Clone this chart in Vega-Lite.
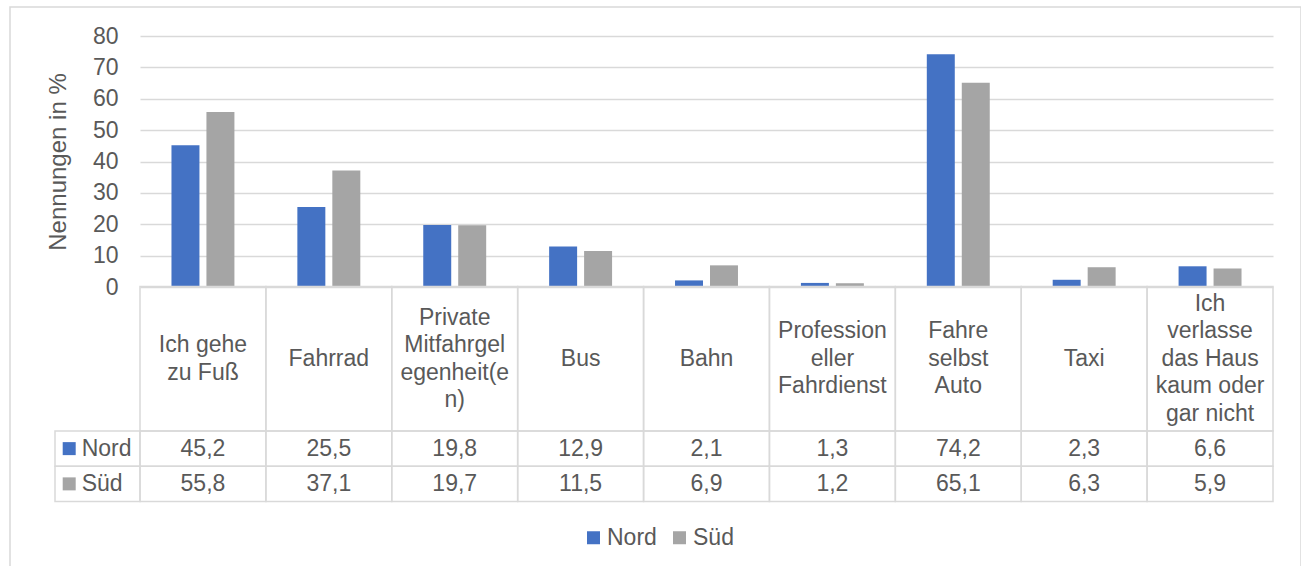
{
  "$schema": "https://vega.github.io/schema/vega-lite/v6.json",
  "width": 1291,
  "height": 570,
  "autosize": {"type": "none"},
  "padding": {"left": 10, "top": 7, "right": 0, "bottom": 0},
  "datasets": {
    "werte": [
      {"verkehrsmittel": "Ich gehe zu Fuß", "reihe": "Nord", "wert": 45.2},
      {"verkehrsmittel": "Ich gehe zu Fuß", "reihe": "Süd", "wert": 55.8},
      {"verkehrsmittel": "Fahrrad", "reihe": "Nord", "wert": 25.5},
      {"verkehrsmittel": "Fahrrad", "reihe": "Süd", "wert": 37.1},
      {"verkehrsmittel": "Private Mitfahrgelegenheit(en)", "reihe": "Nord", "wert": 19.8},
      {"verkehrsmittel": "Private Mitfahrgelegenheit(en)", "reihe": "Süd", "wert": 19.7},
      {"verkehrsmittel": "Bus", "reihe": "Nord", "wert": 12.9},
      {"verkehrsmittel": "Bus", "reihe": "Süd", "wert": 11.5},
      {"verkehrsmittel": "Bahn", "reihe": "Nord", "wert": 2.1},
      {"verkehrsmittel": "Bahn", "reihe": "Süd", "wert": 6.9},
      {"verkehrsmittel": "Professioneller Fahrdienst", "reihe": "Nord", "wert": 1.3},
      {"verkehrsmittel": "Professioneller Fahrdienst", "reihe": "Süd", "wert": 1.2},
      {"verkehrsmittel": "Fahre selbst Auto", "reihe": "Nord", "wert": 74.2},
      {"verkehrsmittel": "Fahre selbst Auto", "reihe": "Süd", "wert": 65.1},
      {"verkehrsmittel": "Taxi", "reihe": "Nord", "wert": 2.3},
      {"verkehrsmittel": "Taxi", "reihe": "Süd", "wert": 6.3},
      {"verkehrsmittel": "Ich verlasse das Haus kaum oder gar nicht", "reihe": "Nord", "wert": 6.6},
      {"verkehrsmittel": "Ich verlasse das Haus kaum oder gar nicht", "reihe": "Süd", "wert": 5.9}
    ],
    "kategorien": [
      {"verkehrsmittel": "Ich gehe zu Fuß", "beschriftung": "Ich gehe\nzu Fuß"},
      {"verkehrsmittel": "Fahrrad", "beschriftung": "Fahrrad"},
      {"verkehrsmittel": "Private Mitfahrgelegenheit(en)", "beschriftung": "Private\nMitfahrgel\negenheit(e\nn)"},
      {"verkehrsmittel": "Bus", "beschriftung": "Bus"},
      {"verkehrsmittel": "Bahn", "beschriftung": "Bahn"},
      {"verkehrsmittel": "Professioneller Fahrdienst", "beschriftung": "Profession\neller\nFahrdienst"},
      {"verkehrsmittel": "Fahre selbst Auto", "beschriftung": "Fahre\nselbst\nAuto"},
      {"verkehrsmittel": "Taxi", "beschriftung": "Taxi"},
      {"verkehrsmittel": "Ich verlasse das Haus kaum oder gar nicht", "beschriftung": "Ich\nverlasse\ndas Haus\nkaum oder\ngar nicht"}
    ],
    "reihen": [
      {"reihe": "Nord"},
      {"reihe": "Süd"}
    ]
  },
  "resolve": {"scale": {"x": "independent", "y": "independent"}},
  "layer": [
    {
      "data": {"name": "werte"},
      "mark": {"type": "bar"},
      "encoding": {
        "x": {
          "field": "verkehrsmittel", "type": "nominal", "sort": null,
          "scale": {"range": [130, 1263], "paddingInner": 0, "paddingOuter": 0},
          "axis": null
        },
        "xOffset": {
          "field": "reihe", "type": "nominal",
          "scale": {"domain": ["Nord", "Süd"], "paddingInner": 0.2, "paddingOuter": 0.9}
        },
        "y": {
          "field": "wert", "type": "quantitative",
          "scale": {"domain": [0, 80], "range": [280, 29], "nice": false, "zero": true},
          "axis": {
            "title": "Nennungen in %",
            "titleFontSize": 24, "titleFontWeight": "normal", "titleColor": "#595959", "titlePadding": 22,
            "labelFontSize": 23, "labelColor": "#595959", "labelPadding": 22,
            "ticks": false, "domain": false, "tickCount": 8,
            "grid": true, "gridColor": "#d9d9d9", "gridWidth": 1.5,
            "offset": -130
          }
        },
        "color": {
          "field": "reihe", "type": "nominal",
          "scale": {"domain": ["Nord", "Süd"], "range": ["#4472c4", "#a5a5a5"]},
          "legend": {
            "title": null, "orient": "none", "direction": "horizontal",
            "legendX": 572, "legendY": 519,
            "symbolType": "square", "symbolSize": 169, "symbolStrokeWidth": 0,
            "labelFontSize": 23, "labelColor": "#595959", "labelOffset": 2,
            "columnPadding": 11, "padding": 0
          }
        }
      }
    },
    {
      "data": {"name": "kategorien"},
      "mark": {"type": "rect", "fill": "transparent", "stroke": "#d9d9d9", "strokeWidth": 1.5},
      "encoding": {
        "x": {
          "field": "verkehrsmittel", "type": "nominal", "sort": null,
          "scale": {"range": [130, 1263], "paddingInner": 0, "paddingOuter": 0},
          "axis": null
        },
        "y": {
          "datum": "Kopf", "type": "nominal",
          "scale": {"range": [279.5, 424], "paddingInner": 0, "paddingOuter": 0},
          "axis": null
        }
      }
    },
    {
      "data": {"name": "kategorien"},
      "transform": [
        {"calculate": "length(split(datum.beschriftung, '\\n'))", "as": "zeilen"}
      ],
      "mark": {"type": "text", "fontSize": 23, "color": "#595959", "lineBreak": "\n", "lineHeight": 27.5, "baseline": "middle", "align": "center"},
      "encoding": {
        "x": {
          "field": "verkehrsmittel", "type": "nominal", "sort": null,
          "scale": {"range": [130, 1263], "paddingInner": 0, "paddingOuter": 0},
          "axis": null
        },
        "y": {
          "field": "zeilen", "type": "quantitative",
          "scale": {"domain": [1, 5], "range": [351.75, 296.75], "zero": false, "nice": false},
          "axis": null
        },
        "text": {"field": "beschriftung", "type": "nominal"}
      }
    },
    {
      "data": {"name": "werte"},
      "mark": {"type": "rect", "fill": "transparent", "stroke": "#d9d9d9", "strokeWidth": 1.5},
      "encoding": {
        "x": {
          "field": "verkehrsmittel", "type": "nominal", "sort": null,
          "scale": {"range": [130, 1263], "paddingInner": 0, "paddingOuter": 0},
          "axis": null
        },
        "y": {
          "field": "reihe", "type": "nominal",
          "scale": {"domain": ["Nord", "Süd"], "range": [424, 494.5], "paddingInner": 0, "paddingOuter": 0},
          "axis": null
        }
      }
    },
    {
      "data": {"name": "werte"},
      "mark": {"type": "text", "fontSize": 23, "color": "#595959", "baseline": "middle", "align": "center"},
      "encoding": {
        "x": {
          "field": "verkehrsmittel", "type": "nominal", "sort": null,
          "scale": {"range": [130, 1263], "paddingInner": 0, "paddingOuter": 0},
          "axis": null
        },
        "y": {
          "field": "reihe", "type": "nominal",
          "scale": {"domain": ["Nord", "Süd"], "range": [424, 494.5], "paddingInner": 0, "paddingOuter": 0},
          "axis": null
        },
        "text": {"field": "wert", "type": "quantitative", "format": ".1f"}
      }
    },
    {
      "data": {"name": "reihen"},
      "mark": {"type": "rect", "fill": "transparent", "stroke": "#d9d9d9", "strokeWidth": 1.5},
      "encoding": {
        "x": {
          "datum": "Reihe", "type": "nominal",
          "scale": {"range": [45, 130], "paddingInner": 0, "paddingOuter": 0},
          "axis": null
        },
        "y": {
          "field": "reihe", "type": "nominal",
          "scale": {"domain": ["Nord", "Süd"], "range": [424, 494.5], "paddingInner": 0, "paddingOuter": 0},
          "axis": null
        }
      }
    },
    {
      "data": {"name": "reihen"},
      "mark": {"type": "point", "shape": "square", "filled": true, "size": 169, "opacity": 1, "xOffset": -28.3},
      "encoding": {
        "x": {
          "datum": "Reihe", "type": "nominal",
          "scale": {"range": [45, 130], "paddingInner": 0, "paddingOuter": 0},
          "axis": null
        },
        "y": {
          "field": "reihe", "type": "nominal",
          "scale": {"domain": ["Nord", "Süd"], "range": [424, 494.5], "paddingInner": 0, "paddingOuter": 0},
          "axis": null
        },
        "color": {"field": "reihe", "type": "nominal"}
      }
    },
    {
      "data": {"name": "reihen"},
      "mark": {"type": "text", "fontSize": 23, "color": "#595959", "baseline": "middle", "align": "left", "dx": -15.8},
      "encoding": {
        "x": {
          "datum": "Reihe", "type": "nominal",
          "scale": {"range": [45, 130], "paddingInner": 0, "paddingOuter": 0},
          "axis": null
        },
        "y": {
          "field": "reihe", "type": "nominal",
          "scale": {"domain": ["Nord", "Süd"], "range": [424, 494.5], "paddingInner": 0, "paddingOuter": 0},
          "axis": null
        },
        "text": {"field": "reihe", "type": "nominal"}
      }
    }
  ],
  "config": {
    "font": "Liberation Sans",
    "view": {"stroke": "#d9d9d9", "strokeWidth": 1.5},
    "locale": {
      "number": {"decimal": ",", "thousands": ".", "grouping": [3], "currency": ["", " €"]}
    }
  }
}
